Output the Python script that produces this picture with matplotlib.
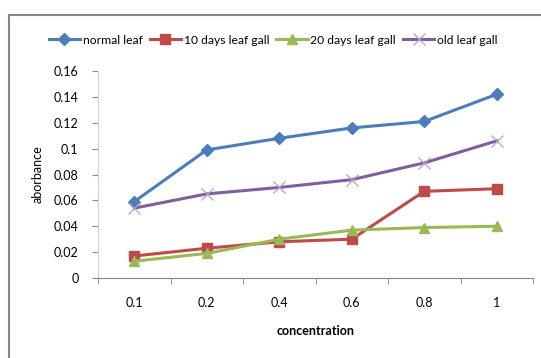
import matplotlib
matplotlib.use("Agg")
import matplotlib.pyplot as plt
from matplotlib.patches import Rectangle

plt.rcParams['font.family'] = ['Lato', 'DejaVu Sans']

concentration = ["0.1", "0.2", "0.4", "0.6", "0.8", "1"]
normal_leaf = [0.059, 0.099, 0.108, 0.116, 0.121, 0.142]
days10_gall = [0.017, 0.023, 0.028, 0.030, 0.067, 0.069]
days20_gall = [0.013, 0.019, 0.030, 0.037, 0.039, 0.040]
old_gall = [0.054, 0.065, 0.070, 0.076, 0.089, 0.106]

series = [
    ("normal leaf", normal_leaf, "#4A7EBB", "D", 6),
    ("10 days leaf gall", days10_gall, "#BE4B48", "s", 7),
    ("20 days leaf gall", days20_gall, "#98B954", "^", 7.5),
    ("old leaf gall", old_gall, "#7D60A0", "x", 9),
]

fig = plt.figure(figsize=(5.41, 3.58), dpi=100)
ax = fig.add_axes([98 / 541, 1 - 278 / 358, (533 - 98) / 541, (278 - 71) / 358])

x = list(range(len(concentration)))
for name, vals, color, marker, ms in series:
    kw = dict(color=color, lw=2.2, marker=marker, markersize=ms, label=name)
    if marker == "x":
        kw.update(markeredgewidth=0.9, markeredgecolor="#B3A2C7")
    else:
        kw.update(markeredgecolor=color, markerfacecolor=color)
    ax.plot(x, vals, **kw)

ax.set_xlim(-0.5, len(concentration) - 0.5)
ax.set_ylim(0, 0.16)
ax.set_yticks([0, 0.02, 0.04, 0.06, 0.08, 0.1, 0.12, 0.14, 0.16])
ax.set_yticklabels(["0", "0.02", "0.04", "0.06", "0.08", "0.1", "0.12", "0.14", "0.16"])
ax.set_xticks(x)
ax.set_xticklabels(concentration)
ax.set_xticks([i - 0.5 for i in range(len(concentration) + 1)], minor=True)
ax.tick_params(axis="x", which="major", length=0, pad=14, labelsize=9)
ax.tick_params(axis="x", which="minor", length=4, color="#878787", direction="out")
ax.tick_params(axis="y", length=4, color="#878787", direction="out", labelsize=9, pad=10)

for s in ["top", "right"]:
    ax.spines[s].set_visible(False)
ax.spines["left"].set_color("#D0D0D0")
ax.spines["bottom"].set_color("#878787")

ax.set_ylabel("aborbance", fontsize=9, labelpad=7)
ax.set_xlabel("concentration", fontsize=9, fontweight="bold", labelpad=11)

fig.legend(loc="center", bbox_to_anchor=(273 / 541, 1 - 40 / 358), ncol=4,
           frameon=False, fontsize=8.7, handlelength=2.6, handletextpad=0.2,
           columnspacing=0.6)

fig.patches.append(Rectangle((8.5 / 541, -0.01), 1.0, 1 - 14.5 / 358 + 0.01,
                             transform=fig.transFigure, fill=False,
                             edgecolor="#868686", lw=1.5))

fig.savefig("out.png", dpi=100)
